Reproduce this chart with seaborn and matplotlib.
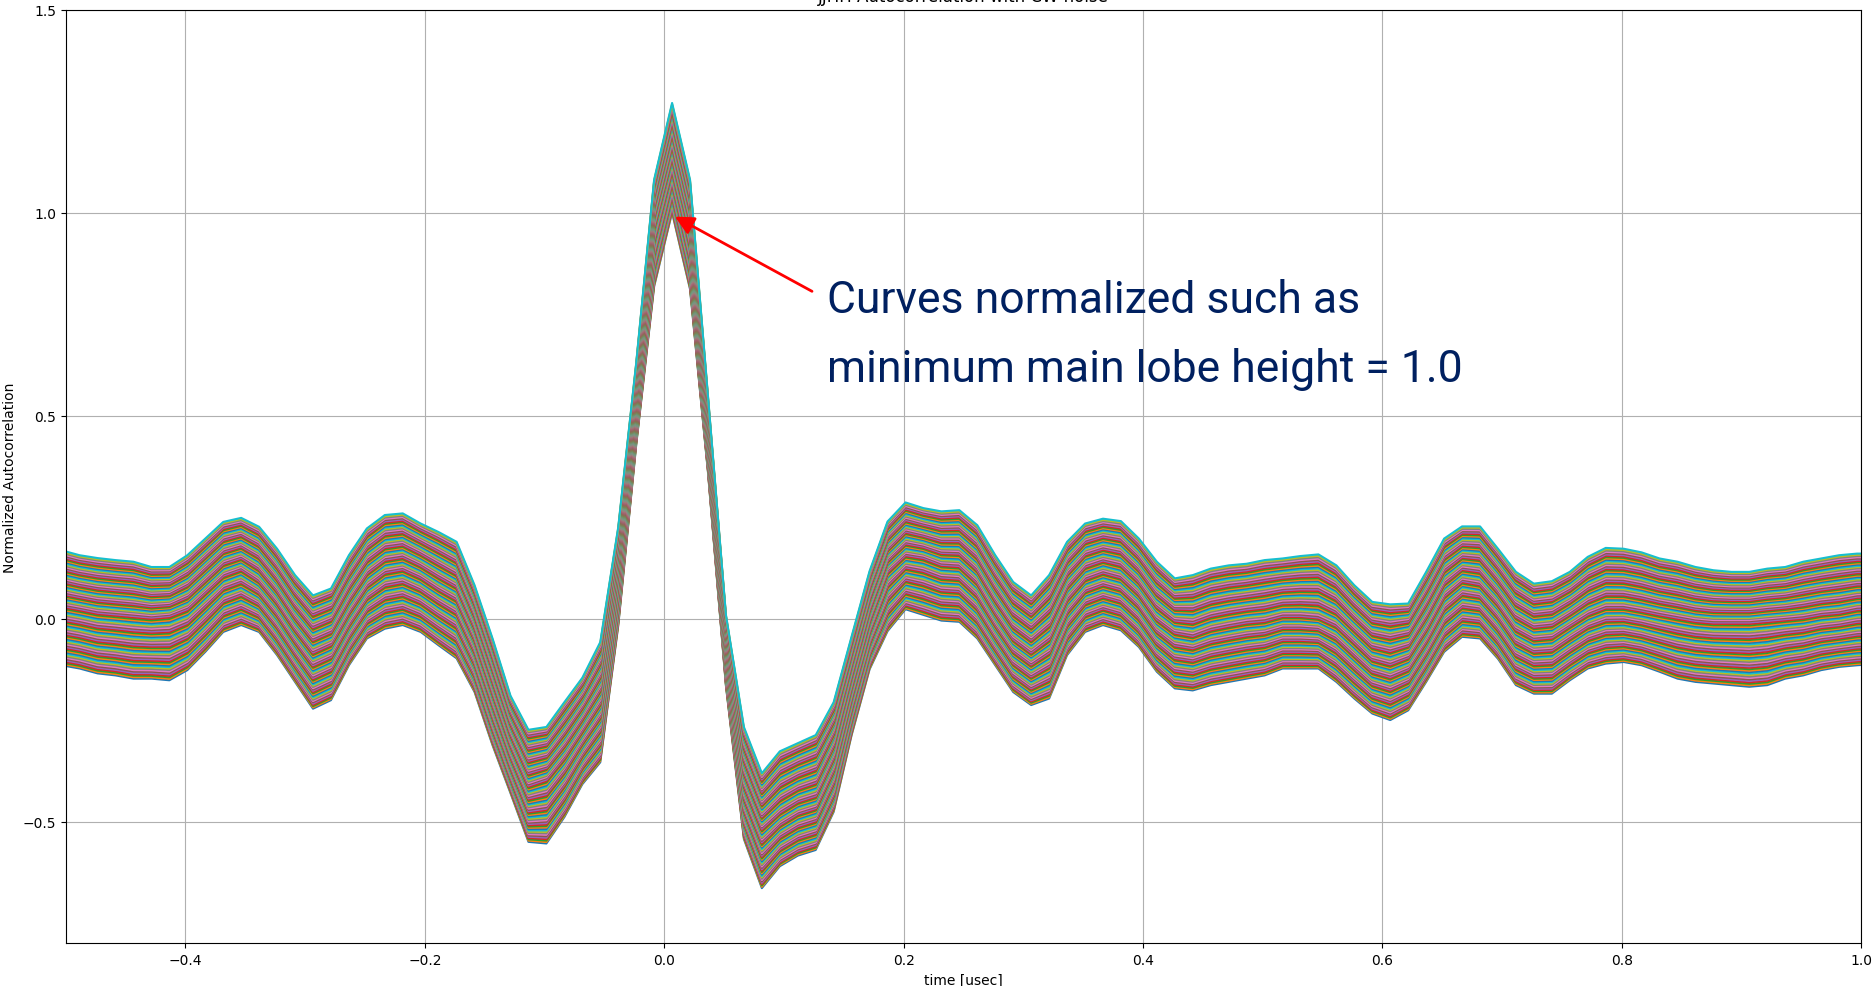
import numpy as np
import pandas as pd
import matplotlib
matplotlib.use("Agg")
import matplotlib.pyplot as plt
from matplotlib import font_manager
import seaborn as sns

# Sample index of the correlator output (15 ns step, lag offset 6.6 ns)
lag_index = np.arange(-34, 68)
time_us = 0.0066 + 0.015 * lag_index

# Upper edge, centre and lower edge of the normalized autocorrelation ensemble
upper_env = [
    0.168, 0.156, 0.149, 0.144, 0.140, 0.127, 0.127, 0.156, 0.197, 0.238,
    0.248, 0.226, 0.172, 0.107, 0.057, 0.074, 0.156, 0.222, 0.255, 0.259,
    0.234, 0.213, 0.189, 0.082, -0.049, -0.190, -0.274, -0.267, -0.206, -0.146,
    -0.058, 0.225, 0.629, 1.081, 1.270, 1.081, 0.548, 0.009, -0.267, -0.381,
    -0.327, -0.307, -0.287, -0.206, -0.044, 0.117, 0.239, 0.286, 0.272, 0.264,
    0.267, 0.230, 0.156, 0.090, 0.057, 0.107, 0.189, 0.234, 0.246, 0.240,
    0.197, 0.140, 0.099, 0.107, 0.123, 0.131, 0.135, 0.144, 0.148, 0.154,
    0.158, 0.131, 0.082, 0.041, 0.035, 0.037, 0.115, 0.197, 0.227, 0.227,
    0.172, 0.115, 0.086, 0.092, 0.115, 0.152, 0.174, 0.172, 0.163, 0.148,
    0.140, 0.127, 0.119, 0.115, 0.115, 0.123, 0.127, 0.140, 0.148, 0.156,
    0.160, 0.160,
]
center_curve = [
    0.033, 0.025, 0.016, 0.012, 0.008, 0.004, 0.008, 0.025, 0.066, 0.107,
    0.123, 0.094, 0.041, -0.025, -0.082, -0.062, 0.016, 0.082, 0.115, 0.123,
    0.103, 0.074, 0.049, -0.049, -0.181, -0.310, -0.410, -0.395, -0.341, -0.274,
    -0.206, 0.117, 0.535, 0.966, 1.140, 0.953, 0.454, -0.071, -0.408, -0.516,
    -0.476, -0.449, -0.435, -0.341, -0.166, -0.004, 0.117, 0.158, 0.151, 0.134,
    0.131, 0.090, 0.016, -0.049, -0.082, -0.049, 0.049, 0.099, 0.115, 0.103,
    0.062, 0.000, -0.033, -0.041, -0.025, -0.016, -0.008, -0.004, 0.008, 0.008,
    0.004, -0.016, -0.057, -0.099, -0.111, -0.094, -0.025, 0.057, 0.094, 0.086,
    0.037, -0.025, -0.049, -0.045, -0.016, 0.012, 0.029, 0.029, 0.021, 0.012,
    0.004, -0.004, -0.008, -0.008, -0.008, -0.004, 0.000, 0.004, 0.012, 0.016,
    0.025, 0.027,
]
lower_env = [
    -0.115, -0.123, -0.135, -0.140, -0.148, -0.148, -0.152, -0.127, -0.082, -0.033,
    -0.016, -0.033, -0.090, -0.156, -0.222, -0.201, -0.115, -0.049, -0.025, -0.016,
    -0.033, -0.066, -0.098, -0.181, -0.312, -0.430, -0.550, -0.554, -0.489, -0.408,
    -0.354, -0.018, 0.427, 0.818, 1.000, 0.811, 0.360, -0.166, -0.543, -0.664,
    -0.610, -0.584, -0.570, -0.476, -0.287, -0.125, -0.031, 0.023, 0.009, -0.005,
    -0.008, -0.049, -0.115, -0.181, -0.213, -0.197, -0.090, -0.033, -0.016, -0.029,
    -0.070, -0.131, -0.172, -0.177, -0.164, -0.156, -0.148, -0.140, -0.123, -0.123,
    -0.123, -0.156, -0.197, -0.234, -0.250, -0.226, -0.156, -0.082, -0.045, -0.049,
    -0.099, -0.164, -0.185, -0.185, -0.152, -0.123, -0.111, -0.107, -0.115, -0.131,
    -0.148, -0.156, -0.160, -0.164, -0.168, -0.164, -0.148, -0.140, -0.127, -0.119,
    -0.115, -0.112,
]

n_curves = 90

upper = np.asarray(upper_env)
center = np.asarray(center_curve)
lower = np.asarray(lower_env)

# Ensemble members spread across the band between the lower and upper edges
frames = []
for i, s in enumerate(np.linspace(-1.0, 1.0, n_curves)):
    if s < 0:
        vals = center + s * (center - lower)
    else:
        vals = center + s * (upper - center)
    frames.append(pd.DataFrame({"time": time_us, "value": vals, "curve": i}))
df = pd.concat(frames, ignore_index=True)

tab10 = sns.color_palette("tab10", 10)
palette = [tab10[i % 10] for i in range(n_curves)]

fig = plt.figure(figsize=(18.72, 9.87), dpi=100)
ax = fig.add_axes([0.0351, 0.0432, 0.9591, 0.9461])

sns.lineplot(data=df, x="time", y="value", hue="curve", palette=palette,
             estimator=None, sort=False, legend=False, linewidth=1.5, ax=ax)

ax.set_xlim(-0.5, 1.0)
ax.set_ylim(-0.8, 1.5)
ax.set_yticks([-0.5, 0.0, 0.5, 1.0, 1.5])
ax.grid(True, color="#b0b0b0", linewidth=0.8)
ax.set_axisbelow(True)
ax.set_title("JJHH Autocorrelation with CW noise", fontsize=12)
ax.set_xlabel("time [usec]")
ax.set_ylabel("Normalized Autocorrelation")

ax.annotate("", xy=(0.009, 0.99), xytext=(0.1235, 0.806),
            arrowprops=dict(arrowstyle="-|>", color="red", lw=2,
                            mutation_scale=28, shrinkA=0, shrinkB=0))

# Prefer a condensed face for the note when one is installed
note_family, note_size = "Roboto", 32
for fam, size in [("Noto Sans Condensed", 35), ("DejaVu Sans Condensed", 34)]:
    try:
        font_manager.findfont(font_manager.FontProperties(family=fam),
                              fallback_to_default=False)
        note_family, note_size = fam, size
        break
    except ValueError:
        pass

note_font = dict(family=[note_family, "DejaVu Sans"], fontsize=note_size,
                 color="#002060", ha="left", va="baseline")
ax.text(0.136, 0.756, "Curves normalized such as", **note_font)
ax.text(0.136, 0.586, "minimum main lobe height = 1.0", **note_font)

fig.savefig("out.png", dpi=100)
